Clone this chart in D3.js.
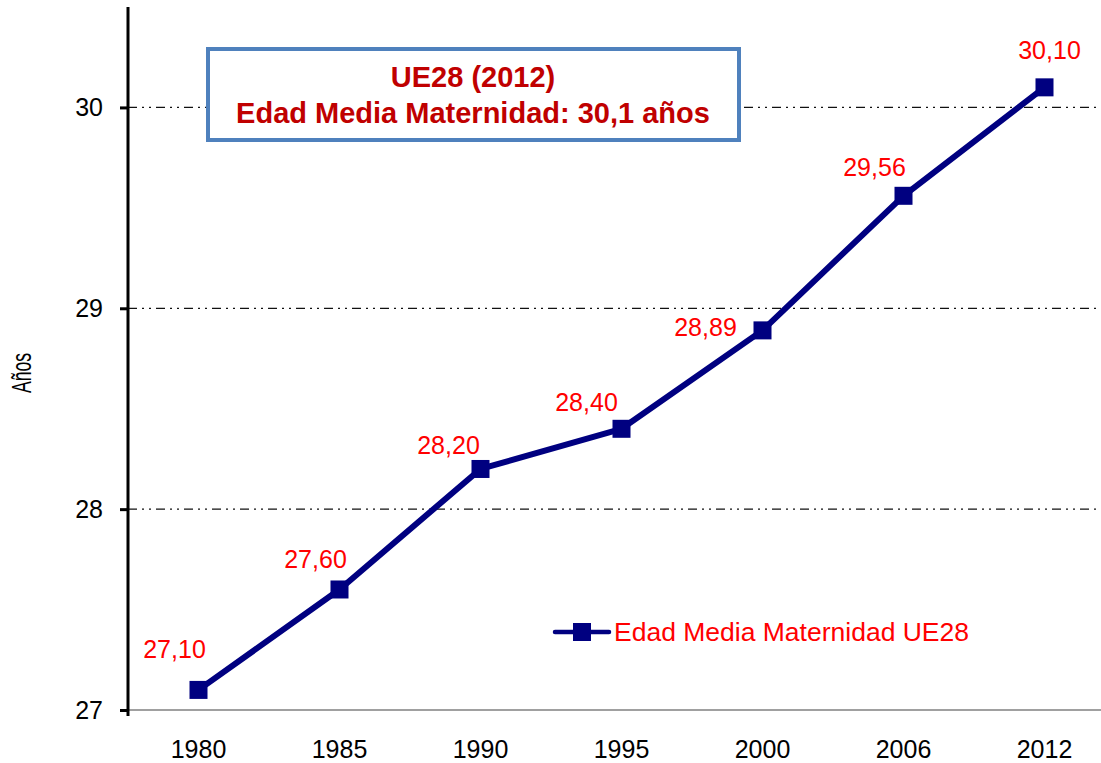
<!DOCTYPE html>
<html>
<head>
<meta charset="utf-8">
<script src="https://cdn.jsdelivr.net/npm/d3@7"></script>
<style>
  body { margin: 0; background: #fff; }
  svg { font-family: Arial, "Liberation Sans", sans-serif; }
</style>
</head>
<body>
<svg id="chart" width="1101" height="763"></svg>
<script>
// chart data
const years = ['1980', '1985', '1990', '1995', '2000', '2006', '2012'];
const edadMedia = [27.10, 27.60, 28.20, 28.40, 28.89, 29.56, 30.10];
const yTicks = [27, 28, 29, 30];
const seriesName = 'Edad Media Maternidad UE28';
const boxLines = ['UE28 (2012)', 'Edad Media Maternidad: 30,1 años'];

// label placement (relative to each point), as in the original
const labelOffsets = [[-24, -32], [-24, -21], [-32, -15], [-35, -18], [-57, 6], [-29, -20], [5, -28]];

const fontFam = 'Arial, "Liberation Sans", sans-serif';
const width = 1101, height = 763;
const margin = {left: 128, right: -14, top: 7, bottom: 53};

const svg = d3.select('#chart');

const x = d3.scaleBand().domain(years)
  .range([margin.left, width - margin.right]);
const y = d3.scaleLinear().domain([27, 30.5])
  .range([height - margin.bottom, margin.top]);

/// gridlines
svg.append('g').selectAll('line')
  .data(yTicks.filter(d => d > 27))
  .enter().append('line')
  .attr('x1', margin.left).attr('x2', width)
  .attr('y1', d => y(d)).attr('y2', d => y(d))
  .attr('stroke', '#111').attr('stroke-width', 1.2)
  .attr('stroke-dasharray', '9,5,2,5,2,5');

/// x axis line
svg.append('line')
  .attr('x1', margin.left).attr('x2', width)
  .attr('y1', y(27)).attr('y2', y(27))
  .attr('stroke', '#808080').attr('stroke-width', 1.5);

/// y axis
const yAxis = svg.append('g')
  .attr('transform', `translate(${margin.left},0)`)
  .call(d3.axisLeft(y).tickValues(yTicks).tickSize(8).tickPadding(17).tickFormat(d3.format('d')));
yAxis.select('.domain').attr('stroke', '#000').attr('stroke-width', 3)
  .attr('d', `M0,${y(27) + 6}V${margin.top}`);
yAxis.selectAll('.tick line').attr('stroke', '#000').attr('stroke-width', 3);
yAxis.selectAll('.tick text').attr('font-size', 25).attr('fill', '#000')
  .attr('font-family', fontFam);

/// x axis labels
const xAxis = svg.append('g')
  .attr('transform', `translate(0,${y(27)})`)
  .call(d3.axisBottom(x).tickSize(0).tickPadding(30));
xAxis.select('.domain').remove();
xAxis.selectAll('.tick text').attr('font-size', 25).attr('fill', '#000')
  .attr('font-family', fontFam);

/// y axis title
svg.append('text')
  .attr('transform', 'translate(31,373) rotate(-90)')
  .attr('text-anchor', 'middle')
  .attr('font-size', 27)
  .attr('textLength', 40)
  .attr('lengthAdjust', 'spacingAndGlyphs')
  .text('Años');

const cx = d => x(d) + x.bandwidth() / 2;

/// line
const line = d3.line()
  .x((d, i) => cx(years[i]))
  .y(d => y(d));

svg.append('path')
  .datum(edadMedia)
  .attr('d', line)
  .attr('fill', 'none')
  .attr('stroke', '#000080')
  .attr('stroke-width', 6)
  .attr('stroke-linejoin', 'round');

/// markers
svg.append('g').selectAll('rect')
  .data(edadMedia)
  .enter().append('rect')
  .attr('x', (d, i) => cx(years[i]) - 9)
  .attr('y', d => y(d) - 9)
  .attr('width', 18).attr('height', 18)
  .attr('fill', '#000080');

/// data labels
svg.append('g').selectAll('text')
  .data(edadMedia)
  .enter().append('text')
  .attr('x', (d, i) => cx(years[i]) + labelOffsets[i][0])
  .attr('y', (d, i) => y(d) + labelOffsets[i][1])
  .attr('text-anchor', 'middle')
  .attr('font-size', 25)
  .attr('fill', '#ff0000')
  .text(d => d3.format('.2f')(d).replace('.', ','));

/// title box
const box = svg.append('g');
box.append('rect')
  .attr('x', 208).attr('y', 49)
  .attr('width', 531).attr('height', 91)
  .attr('fill', '#fff')
  .attr('stroke', '#4F81BD').attr('stroke-width', 4);
box.selectAll('text')
  .data(boxLines)
  .enter().append('text')
  .attr('x', 473)
  .attr('y', (d, i) => 87 + i * 36)
  .attr('text-anchor', 'middle')
  .attr('font-size', 29)
  .attr('font-weight', 'bold')
  .attr('fill', '#C00000')
  .text(d => d);

/// legend
const legend = svg.append('g').attr('transform', 'translate(555,632)');
legend.append('line')
  .attr('x1', 0).attr('x2', 54)
  .attr('stroke', '#000080').attr('stroke-width', 4.5)
  .attr('stroke-linecap', 'round');
legend.append('rect')
  .attr('x', 18).attr('y', -9)
  .attr('width', 18).attr('height', 18)
  .attr('fill', '#000080');
legend.append('text')
  .attr('x', 59).attr('y', 9)
  .attr('font-size', 26.5)
  .attr('fill', '#ff0000')
  .text(seriesName);
</script>
</body>
</html>
